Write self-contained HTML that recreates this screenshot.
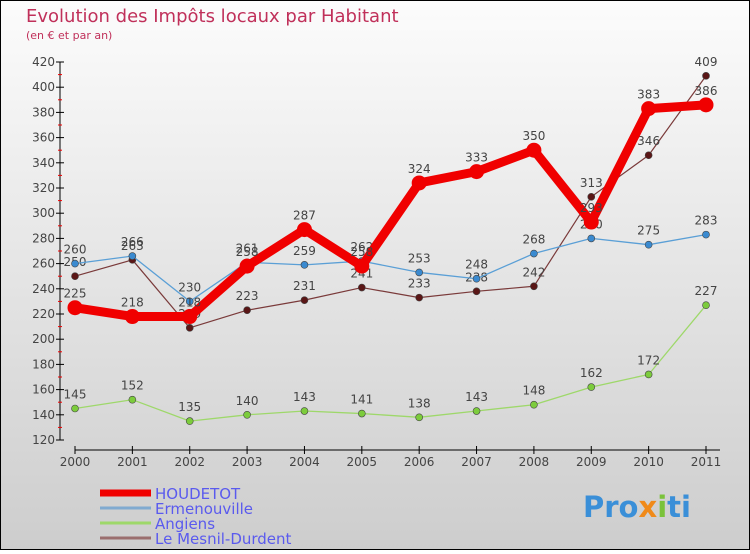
<!DOCTYPE html>
<html><head><meta charset="utf-8"><style>
html,body{margin:0;padding:0}
body{width:750px;height:550px;overflow:hidden;font-family:"DejaVu Sans","Liberation Sans",sans-serif}
</style></head><body>
<svg id="c" width="750" height="550" xmlns="http://www.w3.org/2000/svg">
<defs><linearGradient id="bg" x1="0" y1="0" x2="0" y2="1"><stop offset="0" stop-color="#fcfcfc"/><stop offset="1" stop-color="#cdcdcd"/></linearGradient></defs>
<rect x="0" y="0" width="750" height="550" fill="url(#bg)" stroke="#000" stroke-width="2"/>
<text x="26" y="22" font-size="18" fill="#c0305a">Evolution des Impôts locaux par Habitant</text>
<text x="26" y="39" font-size="11" fill="#c0305a">(en € et par an)</text>
<g id="axes"></g><g id="series"></g><g id="legend"></g>
<text x="583" y="517" font-size="29" font-weight="bold" fill="#3a8fd8">Pro<tspan fill="#f08a1a">x</tspan><tspan fill="#7ac23a">i</tspan>ti</text>
</svg>
<script>
const years=["2000","2001","2002","2003","2004","2005","2006","2007","2008","2009","2010","2011"];
const yTicks=[120,140,160,180,200,220,240,260,280,300,320,340,360,380,400,420];
const houdetot=[225,218,218,258,287,258,324,333,350,293,383,386];
const ermenouville=[260,266,230,261,259,262,253,248,268,280,275,283];
const angiens=[145,152,135,140,143,141,138,143,148,162,172,227];
const mesnil=[250,263,209,223,231,241,233,238,242,313,346,409];
const NS="http://www.w3.org/2000/svg";
function X(i){return 75+i*(706-75)/11;}
function Y(v){return 440-(v-120)*(378/300);}
function mk(t,a,p){const e=document.createElementNS(NS,t);for(const k in a)e.setAttribute(k,a[k]);(p||document.getElementById('c')).appendChild(e);return e;}
const ax=document.getElementById('axes');
let l=mk('line',{x1:60,y1:Y(420),x2:60,y2:Y(120),stroke:'#000'},ax);

l=mk('line',{x1:75,y1:450,x2:720,y2:450,stroke:'#000'},ax);

yTicks.forEach(v=>{
 const t=mk('line',{x1:56,y1:Y(v),x2:64,y2:Y(v),stroke:'#000'},ax);
 
 if(v<420){const m=mk('line',{x1:58,y1:Y(v+10),x2:62,y2:Y(v+10),stroke:'#e00'},ax);
 }
 const tx=mk('text',{x:55,y:Y(v)+4,'font-size':12,fill:'#444','text-anchor':'end'},ax);tx.textContent=v;
 
});
years.forEach((y,i)=>{
 const t=mk('line',{x1:X(i),y1:446,x2:X(i),y2:454,stroke:'#000'},ax);
 
 const tx=mk('text',{x:X(i),y:466,'font-size':12,fill:'#444','text-anchor':'middle'},ax);tx.textContent=y;
 
});
const sg=document.getElementById('series');
function series(name,vals,col,lw,r,dot){
 const g=mk('g',{},sg);
 const p=mk('polyline',{points:vals.map((v,i)=>X(i)+','+Y(v)).join(' '),fill:'none',stroke:col,'stroke-width':lw,'stroke-linejoin':'round'},g);
 
 vals.forEach((v,i)=>{
  const c=mk('circle',{cx:X(i),cy:Y(v),r:r,fill:dot,stroke:'#444','stroke-width':lw>4?0:0.6},g);
  
  const t=mk('text',{x:X(i),y:Y(v)-10,'font-size':12,fill:'#444','text-anchor':'middle'},g);t.textContent=v;
  
 });
}
series('angiens',angiens,'#9ed86a',1.3,3.5,'#7ccc3c');
series('mesnil',mesnil,'#7a3a3a',1.2,3.5,'#5a1616');
series('ermenouville',ermenouville,'#5a9fd6',1.3,3.5,'#3a8ad0');
series('houdetot',houdetot,'#f00000',9,7.5,'#f00000');
const lg=document.getElementById('legend');
[['HOUDETOT','#f00000',7],['Ermenouville','#80aad0',3],['Angiens','#9ed86a',3],['Le Mesnil-Durdent','#9a6e6e',3]].forEach((e,i)=>{
 const y=493+i*15;
 const ln=mk('line',{x1:100,y1:y,x2:151,y2:y,stroke:e[1],'stroke-width':e[2]},lg);
 
 const t=mk('text',{x:155,y:y+6,'font-size':15,fill:'#5a5aee'},lg);t.textContent=e[0];
 
});
</script>
</body></html>
